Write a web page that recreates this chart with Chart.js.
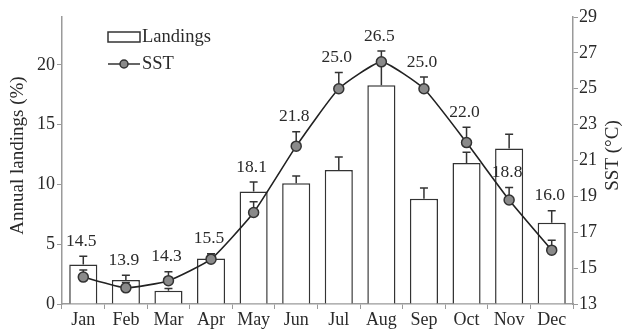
<!DOCTYPE html>
<html>
<head>
<meta charset="utf-8">
<script src="https://cdn.jsdelivr.net/npm/chart.js@4/dist/chart.umd.min.js"></script>
<style>
  html, body { margin: 0; padding: 0; background: #fff; }
  #chart { display: block; }
</style>
</head>
<body>
<canvas id="chart" width="622" height="330"></canvas>
<script>
// Monthly landings share and sea surface temperature
const months = ['Jan', 'Feb', 'Mar', 'Apr', 'May', 'Jun', 'Jul', 'Aug', 'Sep', 'Oct', 'Nov', 'Dec'];
const landings = [3.3, 2.0, 1.1, 3.8, 9.4, 10.1, 11.2, 18.3, 8.8, 11.8, 13.0, 6.8];
const landingsErr = [0.7, 0.4, 0.2, 0.4, 0.8, 0.6, 1.1, 1.9, 0.9, 0.9, 1.2, 1.0];
const sst = [14.5, 13.9, 14.3, 15.5, 18.1, 21.8, 25.0, 26.5, 25.0, 22.0, 18.8, 16.0];
const sstErr = [0.4, 0.3, 0.5, 0.3, 0.6, 0.8, 0.9, 0.6, 0.65, 0.85, 0.7, 0.55];
const landingTicks = [0, 5, 10, 15, 20];
const sstTicks = [13, 15, 17, 19, 21, 23, 25, 27, 29];

const FONT = 'Liberation Serif';
const TEXT = '#2a2a2a';
const AXIS = '#9a9a9a';
const INK = '#333';

// upper half error bar with a small cap
function errorCap(ctx, x, yTop, yBase) {
  ctx.beginPath();
  ctx.moveTo(x, yBase);
  ctx.lineTo(x, yTop);
  ctx.moveTo(x - 4, yTop);
  ctx.lineTo(x + 4, yTop);
  ctx.stroke();
}

const errorBars = {
  id: 'errorBars',
  afterDatasetDraw(chart, args) {
    if (args.index !== 1) return;
    const ctx = chart.ctx;
    const y = chart.scales.y;
    const meta = chart.getDatasetMeta(1);
    ctx.save();
    ctx.strokeStyle = INK;
    ctx.lineWidth = 1.5;
    meta.data.forEach((bar, i) => {
      errorCap(ctx, bar.x, y.getPixelForValue(landings[i] + landingsErr[i]), y.getPixelForValue(landings[i]));
    });
    ctx.restore();
  },
  beforeDatasetDraw(chart, args) {
    if (args.index !== 0) return;
    const ctx = chart.ctx;
    const y1 = chart.scales.y1;
    const meta = chart.getDatasetMeta(0);
    ctx.save();
    ctx.strokeStyle = INK;
    ctx.lineWidth = 1.5;
    meta.data.forEach((pt, i) => {
      errorCap(ctx, pt.x, y1.getPixelForValue(sst[i] + sstErr[i]), pt.y);
    });
    ctx.restore();
  }
};

// SST values written above each point, clear of nearby error bars
const sstLabels = {
  id: 'sstLabels',
  afterDatasetsDraw(chart) {
    const ctx = chart.ctx;
    const y = chart.scales.y;
    const y1 = chart.scales.y1;
    const meta = chart.getDatasetMeta(0);
    ctx.save();
    ctx.font = '17.5px "' + FONT + '"';
    ctx.fillStyle = TEXT;
    ctx.textAlign = 'center';
    ctx.textBaseline = 'middle';
    meta.data.forEach((pt, i) => {
      let top = y1.getPixelForValue(sst[i] + sstErr[i]);
      const barTop = y.getPixelForValue(landings[i] + landingsErr[i]);
      if (barTop < top && pt.y - barTop < 60) top = barTop;
      ctx.fillText(sst[i].toFixed(1), pt.x - 2, top - 15);
    });
    ctx.restore();
  }
};

// legend in the top-left corner and both axis titles, read bottom to top
const legendBox = {
  id: 'legendBox',
  afterDraw(chart) {
    const ctx = chart.ctx;
    const area = chart.chartArea;
    ctx.save();
    ctx.strokeStyle = INK;
    ctx.lineWidth = 1.5;
    ctx.fillStyle = '#fff';
    ctx.fillRect(108, 32, 32, 10);
    ctx.strokeRect(108, 32, 32, 10);
    ctx.beginPath();
    ctx.moveTo(108, 64);
    ctx.lineTo(140, 64);
    ctx.stroke();
    ctx.beginPath();
    ctx.arc(124, 64, 4, 0, Math.PI * 2);
    ctx.fillStyle = '#8a8a8a';
    ctx.fill();
    ctx.stroke();
    ctx.font = '18.5px "' + FONT + '"';
    ctx.fillStyle = TEXT;
    ctx.textBaseline = 'middle';
    ctx.fillText('Landings', 142, 37);
    ctx.fillText('SST', 142, 64);

    ctx.font = '19px "' + FONT + '"';
    ctx.textAlign = 'center';
    const midY = (area.top + area.bottom) / 2 - 5;
    [['Annual landings (%)', 18], ['SST (°C)', 613]].forEach(([text, x]) => {
      ctx.save();
      ctx.translate(x, midY);
      ctx.rotate(-Math.PI / 2);
      ctx.fillText(text, 0, 0);
      ctx.restore();
    });
    ctx.restore();
  }
};

const tickFont = { family: FONT, size: 18 };

new Chart(document.getElementById('chart'), {
  data: {
    labels: months,
    datasets: [
      {
        type: 'line',
        label: 'SST',
        data: sst,
        yAxisID: 'y1',
        order: 1,
        borderColor: '#222',
        borderWidth: 1.6,
        tension: 0.15,
        pointRadius: 5,
        pointBorderWidth: 1.5,
        pointBackgroundColor: '#8a8a8a',
        pointBorderColor: '#333'
      },
      {
        type: 'bar',
        label: 'Landings',
        data: landings,
        yAxisID: 'y',
        order: 2,
        backgroundColor: '#fff',
        borderColor: INK,
        borderWidth: 1.5,
        barPercentage: 0.66,
        categoryPercentage: 1
      }
    ]
  },
  options: {
    responsive: false,
    animation: false,
    layout: { padding: { top: 17, left: 0, right: 0, bottom: 0 } },
    plugins: {
      legend: { display: false },
      tooltip: { enabled: false }
    },
    scales: {
      x: {
        offset: true,
        grid: { offset: true, drawOnChartArea: false, tickLength: 5, color: AXIS },
        border: { color: AXIS, width: 1.5 },
        ticks: { font: tickFont, color: TEXT, padding: 0, maxRotation: 0, autoSkip: false },
        afterFit: s => { s.height = 26; }
      },
      y: {
        position: 'left',
        min: 0,
        max: 24,
        afterBuildTicks: s => { s.ticks = landingTicks.map(v => ({ value: v })); },
        grid: { drawOnChartArea: false, tickLength: 5, color: AXIS },
        border: { color: AXIS, width: 1.5 },
        ticks: { font: tickFont, color: TEXT, padding: 2 },
        afterFit: s => { s.width = 62; }
      },
      y1: {
        position: 'right',
        min: 13,
        max: 29,
        afterBuildTicks: s => { s.ticks = sstTicks.map(v => ({ value: v })); },
        grid: { drawOnChartArea: false, tickLength: 5, color: AXIS },
        border: { color: AXIS, width: 1.5 },
        ticks: { font: tickFont, color: TEXT, padding: 1 },
        afterFit: s => { s.width = 49; }
      }
    }
  },
  plugins: [errorBars, sstLabels, legendBox]
});
</script>
</body>
</html>
